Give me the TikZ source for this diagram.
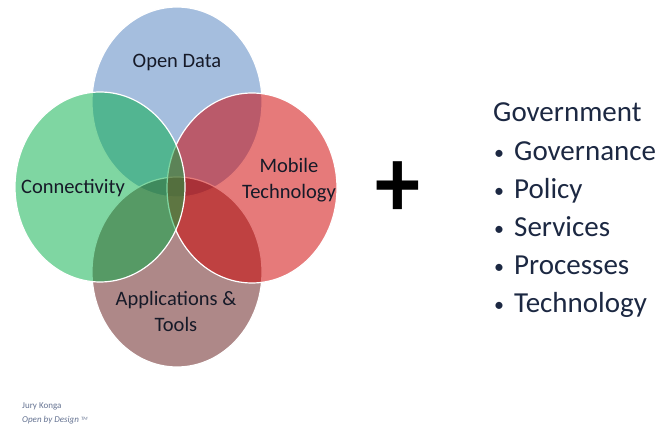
\documentclass[tikz,border=0pt]{standalone}
\usepackage{fontspec}
\setmainfont{Carlito}
\usepackage{tikz}
\usetikzlibrary{shapes.geometric}

\definecolor{datablue}{RGB}{165,190,222}
\definecolor{connectgreen}{RGB}{0,173,69}
\definecolor{mobilered}{RGB}{207,0,0}
\definecolor{toolsbrown}{RGB}{93,17,17}
\definecolor{ink}{RGB}{22,26,40}
\definecolor{listink}{RGB}{28,40,66}
\definecolor{footgray}{RGB}{100,114,145}

\newcommand{\bul}{\makebox[20pt][l]{\fontsize{20}{20}\selectfont\raisebox{1.5pt}{•}}}

\begin{document}
\begin{tikzpicture}[x=1pt,y=-1pt]
  \useasboundingbox (0,0) rectangle (659,427);

  \begin{scope}[every node/.style={ellipse,draw=white,line width=1.2pt,minimum width=170pt,minimum height=190pt,inner sep=0pt}]
      \node[fill=datablue] (c1) at (177,102) {};
      \node[fill=toolsbrown, fill opacity=0.5] (c4) at (177,272) {};
      \node[fill=mobilered, fill opacity=0.52] (c3) at (252,188) {};
      \node[fill=connectgreen, fill opacity=0.5] (c2) at (100,187) {};
  \end{scope}

  \tikzset{circle text/.style={text=ink, font=\fontsize{20.5}{26}\selectfont, align=center}}

  \node[circle text] (t1) at (177,63) {Open Data};
  \node[circle text] (t2) at (73,188) {Connectivity};
  \node[circle text] (t3) at (289,180) {Mobile\\Technology};
  \node[circle text] (t4) at (176,311) {Applications \&\\Tools};

  \node[font=\fontsize{90}{90}\selectfont\bfseries] (plus) at (398,190) {\scalebox{1}[1.12]{+}};

  \tikzset{list text/.style={anchor=base west, text=listink, font=\fontsize{29}{30}\selectfont, inner sep=0pt}}

  \node[list text] (g0) at (493,122) {Government};
  \node[list text] (g1) at (494,161) {\bul Governance};
  \node[list text] (g2) at (494,199) {\bul Policy};
  \node[list text] (g3) at (494,237) {\bul Services};
  \node[list text] (g4) at (494,275) {\bul Processes};
  \node[list text] (g5) at (494,313) {\bul Technology};

  \tikzset{foot text/.style={anchor=base west, text=footgray, font=\fontsize{9}{10}\selectfont, inner sep=0pt}}

  \node[foot text] (f1) at (22,409) {Jury Konga};
  \node[foot text] (f2) at (22,423) {\itshape Open by Design {\fontsize{5}{5}\selectfont\raisebox{2pt}{TM}}};
\end{tikzpicture}
\end{document}
